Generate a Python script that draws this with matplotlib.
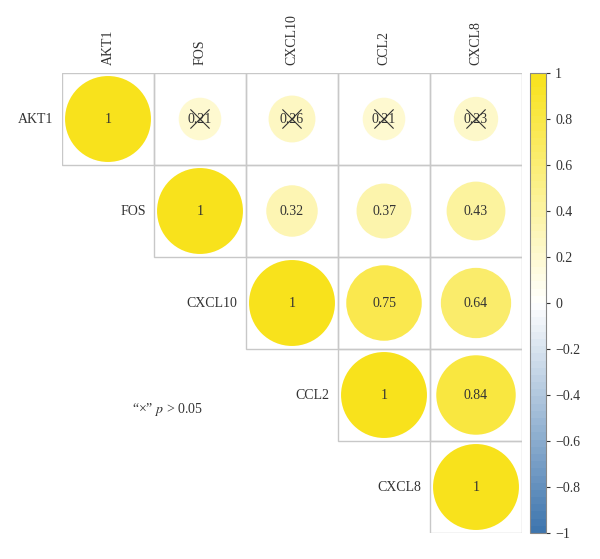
import numpy as np
import matplotlib
matplotlib.use('Agg')
import matplotlib.pyplot as plt
from matplotlib.colors import LinearSegmentedColormap, Normalize
from matplotlib.patches import Circle, Rectangle
from matplotlib.cm import ScalarMappable

genes = ['AKT1', 'FOS', 'CXCL10', 'CCL2', 'CXCL8']
# upper triangle, row by row
corr_rows = [
    [1, 0.21, 0.26, 0.21, 0.23],
    [1, 0.32, 0.37, 0.43],
    [1, 0.75, 0.64],
    [1, 0.84],
    [1],
]
# cells with p > 0.05
nonsig = [(0, 1), (0, 2), (0, 3), (0, 4)]

plt.rcParams['font.family'] = ['Liberation Serif', 'DejaVu Serif']
plt.rcParams['mathtext.fontset'] = 'stix'

cmap = LinearSegmentedColormap.from_list(
    'by', ['#3F76AE', '#FFFFFF', '#F8E21C'], N=64)
norm = Normalize(-1, 1)

fig = plt.figure(figsize=(6, 5.59), dpi=100)
ax = fig.add_axes([62 / 600, 26 / 559, 460 / 600, 460 / 559])
n = len(genes)
ax.set_xlim(-0.5, n - 0.5)
ax.set_ylim(n - 0.5, -0.5)
ax.set_aspect('equal')
for s in ax.spines.values():
    s.set_visible(False)

for i, row in enumerate(corr_rows):
    for k, r in enumerate(row):
        j = i + k
        ax.add_patch(Rectangle((j - 0.5, i - 0.5), 1, 1, fill=False,
                               edgecolor='#C8C8C8', lw=1))
        ax.add_patch(Circle((j, i), 0.467 * abs(r) ** 0.45,
                            facecolor=cmap(norm(r)), edgecolor='none'))
        lab = '1' if r == 1 else f'{r:.2f}'
        ax.text(j, i, lab, ha='center', va='center', fontsize=10,
                color='#333333')
        if (i, j) in nonsig:
            d = 0.1
            ax.plot([j - d, j + d], [i - d, i + d], color='#333333', lw=0.8)
            ax.plot([j - d, j + d], [i + d, i - d], color='#333333', lw=0.8)
    ax.text(i - 0.59, i, genes[i], ha='right', va='center', fontsize=10,
            color='#333333')

ax.xaxis.tick_top()
ax.set_xticks(range(n))
ax.set_xticklabels(genes, rotation=90, fontsize=10, color='#333333')
ax.tick_params(axis='x', length=0, pad=6)
ax.set_yticks([])

ax.text(0.26, 3.16, '“×” $p$ > 0.05', ha='left', va='center',
        fontsize=10, color='#333333')

cax = fig.add_axes([530 / 600, 26 / 559, 16 / 600, 460 / 559])
cb = fig.colorbar(ScalarMappable(norm=norm, cmap=cmap), cax=cax)
cb.set_ticks(np.arange(-1, 1.01, 0.2))
cb.set_ticklabels(['\u22121', '\u22120.8', '\u22120.6', '\u22120.4', '\u22120.2',
                   '0', '0.2', '0.4', '0.6', '0.8', '1'])
cb.outline.set_edgecolor('#888888')
cax.tick_params(labelsize=10, colors='#333333', length=3)

fig.savefig('out.png', dpi=100)
